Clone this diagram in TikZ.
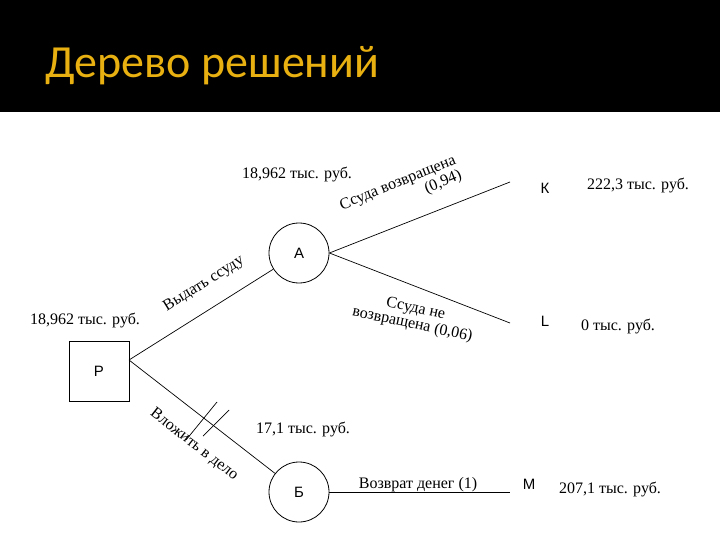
\documentclass[tikz,border=0pt]{standalone}
\usepackage{fontspec}
\setmainfont{Liberation Serif}
\newfontfamily\titlefont{Carlito}
\newfontfamily\lblfont{Liberation Sans}
\definecolor{gold}{HTML}{E8B010}
\begin{document}
\begin{tikzpicture}[x=1pt,y=-1pt,
  lbl/.style={font=\fontsize{16}{16}\selectfont, inner sep=1pt, align=center},
  endlbl/.style={font=\lblfont\fontsize{15}{16}\selectfont},
  circ/.style={draw, circle, minimum size=60pt, inner sep=0pt, font=\lblfont\fontsize{15}{16}\selectfont, line width=0.8pt},
  ln/.style={line width=0.7pt}]
\useasboundingbox (0,0) rectangle (720,540);
\fill[black] (0,0) rectangle (720,112);
\node[font=\titlefont\fontsize{46}{50}\selectfont, text=gold, anchor=west] (title) at (42,66) {Дерево решений};
\node[draw, minimum width=60pt, minimum height=60pt, line width=0.8pt, font=\lblfont\fontsize{15}{16}\selectfont] (P) at (99,371) {Р};
\node[circ] (A) at (299,253) {А};
\node[circ] (B) at (299,492) {Б};
\coordinate (Ps) at (129,360);
\coordinate (K) at (510,182);
\coordinate (L) at (510,323);
\coordinate (M) at (510,492);
\draw[ln] (Ps) -- (A);
\draw[ln] (Ps) -- (B);
\draw[ln] (A.east) -- (K);
\draw[ln] (A.east) -- (L);
\draw[ln] (B.east) -- (M);
\coordinate (s1a) at (186,440); \coordinate (s1b) at (217,402);
\coordinate (s2a) at (203,436); \coordinate (s2b) at (229,410);
\draw[ln] (s1a) -- (s1b);
\draw[ln] (s2a) -- (s2b);
\node[lbl] (v1) at (85,320) {18,962 тыс. руб.};
\node[lbl] (v2) at (297,175) {18,962 тыс. руб.};
\node[lbl] (v3) at (303,429) {17,1 тыс. руб.};
\node[lbl, rotate=32] (e1) at (204,284) {Выдать ссуду};
\node[lbl, rotate=22, align=right] (e2) at (401,191) {Ссуда возвращена\\(0,94)};
\node[lbl, rotate=-12] (e3) at (414,317) {Ссуда не\\возвращена (0,06)};
\node[lbl, rotate=-38] (e4) at (194,445) {Вложить в дело};
\node[lbl] (e5) at (418,485) {Возврат денег (1)};
\node[endlbl] (k) at (545,188) {К};
\node[endlbl] (l) at (545,321) {L};
\node[endlbl] (m) at (529,484) {М};
\node[lbl] (kv) at (638,186) {222,3 тыс. руб.};
\node[lbl] (lv) at (618,326) {0 тыс. руб.};
\node[lbl] (mv) at (610,489) {207,1 тыс. руб.};
\end{tikzpicture}
\end{document}
